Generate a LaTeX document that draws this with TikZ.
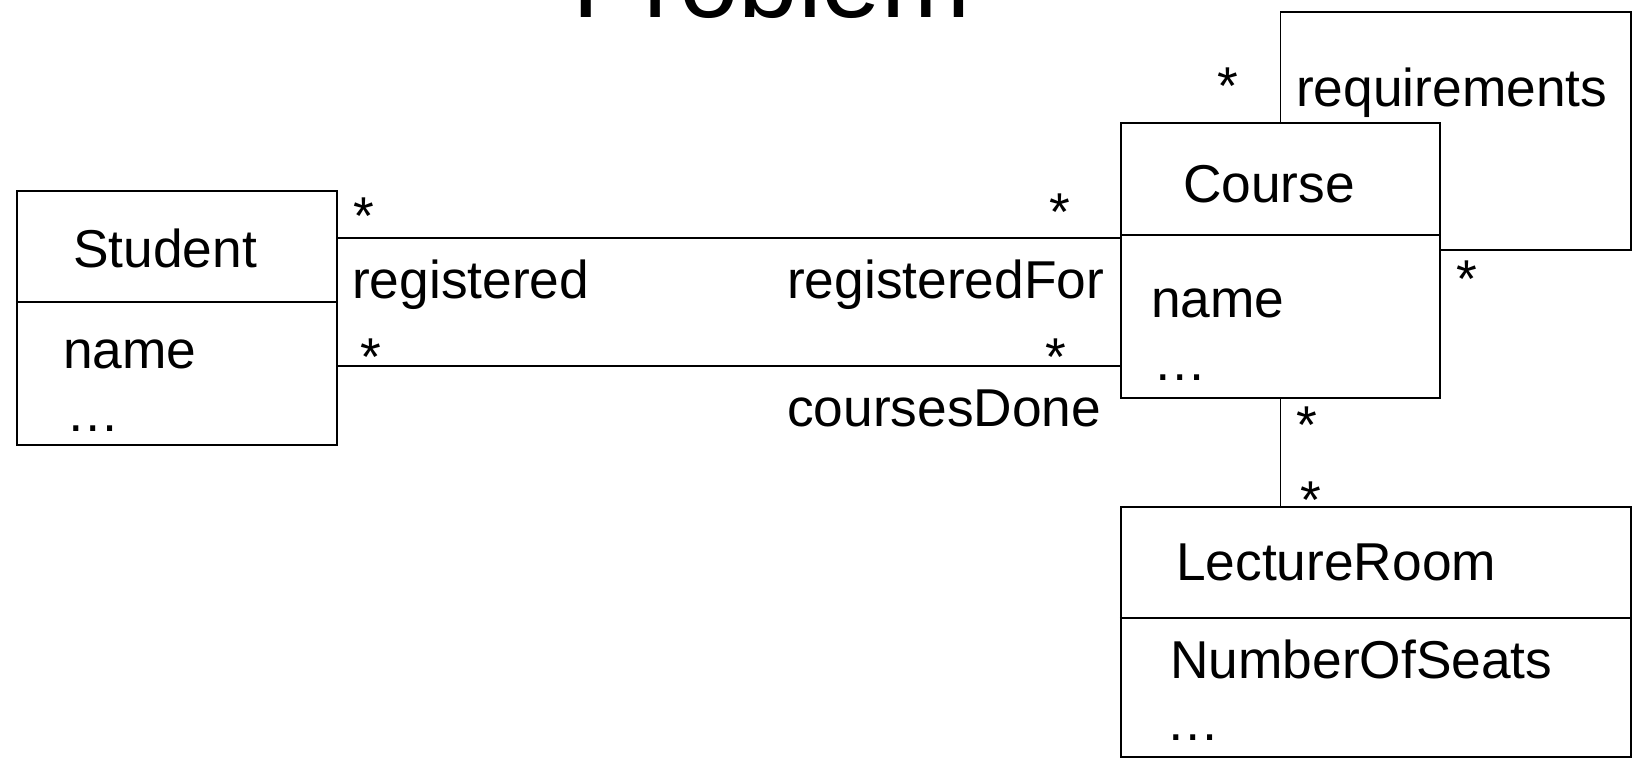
\documentclass[tikz,border=0pt]{standalone}
\usepackage{fontspec}
\setmainfont{Liberation Sans}
\begin{document}
\begin{tikzpicture}[x=1pt,y=-1pt,
  classbox/.style={draw, line width=2.4pt, inner sep=0pt, anchor=center},
  divider/.style={line width=2.4pt},
  assoc/.style={line width=1.8pt},
  lbl/.style={anchor=base west, inner sep=0pt, font=\fontsize{53.3pt}{61pt}\selectfont},
  mult/.style={anchor=base, inner sep=0pt, font=\fontsize{53.3pt}{61pt}\selectfont},
  titletext/.style={anchor=base west, inner sep=0pt, font=\fontsize{107pt}{122pt}\selectfont}]
\useasboundingbox (0,0) rectangle (1633,765);
\clip (0,0) rectangle (1633,765);

% title, partly above the page
\node[titletext] (title) at (572,18) {Problem};

% classes
\node[classbox, minimum width=320pt, minimum height=254pt] (student) at (177,318) {};
\node[classbox, minimum width=319pt, minimum height=275pt] (course) at (1280.5,260.5) {};
\node[classbox, minimum width=510pt, minimum height=250pt] (lecture) at (1376,632) {};

\draw[divider] (student.west |- 0,302) -- (student.east |- 0,302);
\draw[divider] (course.west |- 0,235) -- (course.east |- 0,235);
\draw[divider] (lecture.west |- 0,618) -- (lecture.east |- 0,618);

% class names and attributes
\node[lbl] (sname) at (73,267) {Student};
\node[lbl] (sattr) at (63,368) {name};
\node[lbl] (sdots) at (66,431) {…};
\node[lbl] (cname) at (1183,202) {Course};
\node[lbl] (cattr) at (1151,317) {name};
\node[lbl] (cdots) at (1153,380) {…};
\node[lbl] (lname) at (1176,580) {LectureRoom};
\node[lbl] (lattr) at (1170,678) {NumberOfSeats};
\node[lbl] (ldots) at (1166,740) {…};

% associations
\draw[assoc] (student.east |- 0,238) -- (course.west |- 0,238);
\draw[assoc] (student.east |- 0,366) -- (course.west |- 0,366);
\coordinate (reqtop) at (1631,12);
\coordinate (reqright) at (1631,250);
\draw[assoc] (course.north) |- (reqtop) -- (reqright) -- (course.east |- reqright);
\draw[assoc] (course.south) -- (lecture.north -| course.south);

% role names
\node[lbl] (rreg) at (352,298) {registered};
\node[lbl] (rregfor) at (787,298) {registeredFor};
\node[lbl] (rdone) at (787,426) {coursesDone};
\node[lbl] (rreq) at (1296,107) {requirements};

% multiplicities
\node[mult] (m1) at (364,234) {*};
\node[mult] (m2) at (371,375) {*};
\node[mult] (m3) at (1060,230) {*};
\node[mult] (m4) at (1056,375) {*};
\node[mult] (m5) at (1228,105) {*};
\node[mult] (m6) at (1467,297) {*};
\node[mult] (m7) at (1307,443) {*};
\node[mult] (m8) at (1311,518) {*};
\end{tikzpicture}
\end{document}
